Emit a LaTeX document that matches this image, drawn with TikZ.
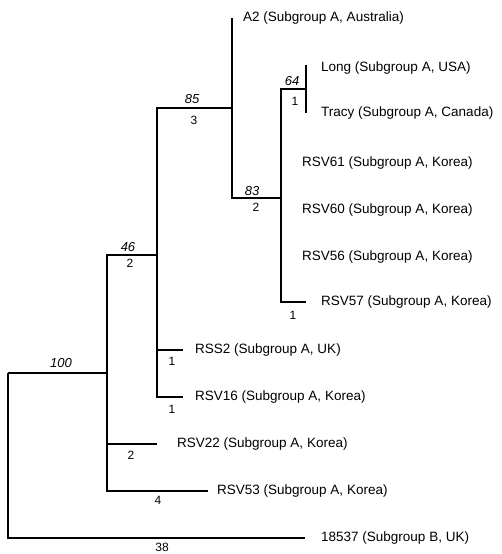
\documentclass[tikz,border=0pt]{standalone}
\usepackage{fontspec}
\setmainfont{Liberation Sans}
\usetikzlibrary{positioning}

\begin{document}
\begin{tikzpicture}[x=1pt, y=-1pt,
    branch/.style={line width=1.1pt},
    taxon/.style={anchor=west, inner sep=0pt, font=\fontsize{13.5}{16}\selectfont},
    boot/.style={inner sep=0pt, font=\fontsize{13}{16}\selectfont\itshape},
    blen/.style={inner sep=0pt, font=\fontsize{12}{16}\selectfont}]
      \useasboundingbox (0,0) rectangle (501,554);

      % internal nodes
      \coordinate (root) at (8,373);
      \coordinate (n100) at (107,373);
      \coordinate (n46) at (157,255);
      \coordinate (n85) at (232,108);
      \coordinate (n83) at (281,198);
      \coordinate (n64) at (306,89);

      % branch ends
      \coordinate (lA2) at (232,18);
      \coordinate (lLong) at (306,65);
      \coordinate (lTracy) at (306,113);
      \coordinate (lRSV57) at (306,302);
      \coordinate (lRSS2) at (183,350);
      \coordinate (lRSV16) at (183,397);
      \coordinate (lRSV22) at (157,444);
      \coordinate (lRSV53) at (208,491);
      \coordinate (l18537) at (305,538);

      % branches
      \draw[branch] (root) -- (n100);
      \draw[branch] (root) |- (l18537);
      \draw[branch] (n100) |- (n46);
      \draw[branch] (n100) |- (lRSV22);
      \draw[branch] (n100) |- (lRSV53);
      \draw[branch] (n46) |- (n85);
      \draw[branch] (n46) |- (lRSS2);
      \draw[branch] (n46) |- (lRSV16);
      \draw[branch] (n85) -- (lA2);
      \draw[branch] (n85) |- (n83);
      \draw[branch] (n83) |- (n64);
      \draw[branch] (n83) |- (lRSV57);
      \draw[branch] (lLong) -- (lTracy);

      % taxa
      \node[taxon] (tA2) at (243,18) {A2 (Subgroup A, Australia)};
      \node[taxon] (tLong) at (321,68) {Long (Subgroup A, USA)};
      \node[taxon] (tTracy) at (321,113) {Tracy (Subgroup A, Canada)};
      \node[taxon] (tRSV61) at (302,163) {RSV61 (Subgroup A, Korea)};
      \node[taxon] (tRSV60) at (302,210) {RSV60 (Subgroup A, Korea)};
      \node[taxon] (tRSV56) at (302,257) {RSV56 (Subgroup A, Korea)};
      \node[taxon] (tRSV57) at (321,302) {RSV57 (Subgroup A, Korea)};
      \node[taxon] (tRSS2) at (195,350) {RSS2 (Subgroup A, UK)};
      \node[taxon] (tRSV16) at (195,397) {RSV16 (Subgroup A, Korea)};
      \node[taxon] (tRSV22) at (177,444) {RSV22 (Subgroup A, Korea)};
      \node[taxon] (tRSV53) at (217,491) {RSV53 (Subgroup A, Korea)};
      \node[taxon] (t18537) at (321,538) {18537 (Subgroup B, UK)};

      % bootstrap values
      \node[boot] (b100) at (61,363) {100};
      \node[boot] (b46) at (128,247) {46};
      \node[boot] (b85) at (192,99) {85};
      \node[boot] (b83) at (252,191) {83};
      \node[boot] (b64) at (292,81) {64};

      % branch lengths
      \node[blen] (d46) at (130,263) {2};
      \node[blen] (d85) at (194,120) {3};
      \node[blen] (d83) at (256,207) {2};
      \node[blen] (d64) at (295,101) {1};
      \node[blen] (dRSV57) at (293,315) {1};
      \node[blen] (dRSS2) at (172,361) {1};
      \node[blen] (dRSV16) at (172,409) {1};
      \node[blen] (dRSV22) at (131,455) {2};
      \node[blen] (dRSV53) at (158,500) {4};
      \node[blen] (d18537) at (162,547) {38};
    \end{tikzpicture}
\end{document}
